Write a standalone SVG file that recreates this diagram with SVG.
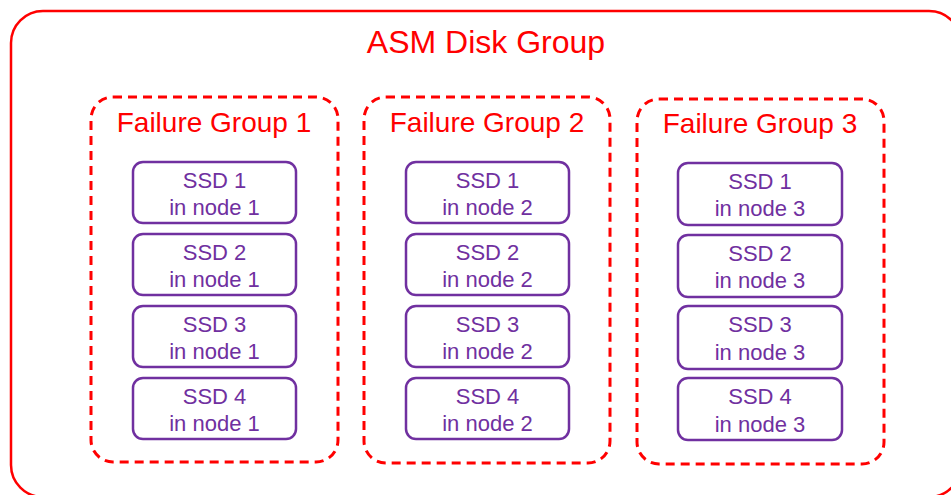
<svg xmlns="http://www.w3.org/2000/svg" width="951" height="495" viewBox="0 0 951 495">
<style>
.outer{fill:#fff;stroke:#FF0000;stroke-width:2.5}
.fg{fill:none;stroke:#FF0000;stroke-width:3;stroke-dasharray:9 6}
.ssd{fill:#fff;stroke:#7030A0;stroke-width:2.5}
.t1{font-family:"Liberation Sans",Arial,sans-serif;font-size:32px;fill:#FF0000;text-anchor:middle}
.t2{font-family:"Liberation Sans",Arial,sans-serif;font-size:28px;fill:#FF0000;text-anchor:middle}
.t3{font-family:"Liberation Sans",Arial,sans-serif;font-size:22px;fill:#7030A0;text-anchor:middle}
</style>
<rect width="951" height="495" fill="#fff"/>
<g id="asm-disk-group">
<rect class="outer" x="11" y="11" width="950" height="486" rx="32"/>
<text class="t1" x="486" y="53">ASM Disk Group</text>
</g>
<g id="failure-group-1">
<rect class="fg" x="91" y="97" width="247" height="365" rx="22"/>
<text class="t2" x="214" y="132">Failure Group 1</text>
</g>
<g id="failure-group-2">
<rect class="fg" x="364" y="97" width="246" height="366" rx="22"/>
<text class="t2" x="487" y="132">Failure Group 2</text>
</g>
<g id="failure-group-3">
<rect class="fg" x="637" y="99" width="247" height="365" rx="22"/>
<text class="t2" x="760" y="133">Failure Group 3</text>
</g>
<g id="ssd1-node1"><rect class="ssd" x="133" y="162" width="163" height="61" rx="10"/><text class="t3" x="214.5" y="188">SSD 1</text><text class="t3" x="214.5" y="215">in node 1</text></g>
<g id="ssd2-node1"><rect class="ssd" x="133" y="234" width="163" height="61" rx="10"/><text class="t3" x="214.5" y="260">SSD 2</text><text class="t3" x="214.5" y="287">in node 1</text></g>
<g id="ssd3-node1"><rect class="ssd" x="133" y="306" width="163" height="61" rx="10"/><text class="t3" x="214.5" y="332">SSD 3</text><text class="t3" x="214.5" y="359">in node 1</text></g>
<g id="ssd4-node1"><rect class="ssd" x="133" y="378" width="163" height="61" rx="10"/><text class="t3" x="214.5" y="404">SSD 4</text><text class="t3" x="214.5" y="431">in node 1</text></g>
<g id="ssd1-node2"><rect class="ssd" x="406" y="162" width="163" height="61" rx="10"/><text class="t3" x="487.5" y="188">SSD 1</text><text class="t3" x="487.5" y="215">in node 2</text></g>
<g id="ssd2-node2"><rect class="ssd" x="406" y="234" width="163" height="61" rx="10"/><text class="t3" x="487.5" y="260">SSD 2</text><text class="t3" x="487.5" y="287">in node 2</text></g>
<g id="ssd3-node2"><rect class="ssd" x="406" y="306" width="163" height="61" rx="10"/><text class="t3" x="487.5" y="332">SSD 3</text><text class="t3" x="487.5" y="359">in node 2</text></g>
<g id="ssd4-node2"><rect class="ssd" x="406" y="378" width="163" height="61" rx="10"/><text class="t3" x="487.5" y="404">SSD 4</text><text class="t3" x="487.5" y="431">in node 2</text></g>
<g id="ssd1-node3"><rect class="ssd" x="678" y="163" width="164" height="62" rx="10"/><text class="t3" x="760" y="189">SSD 1</text><text class="t3" x="760" y="216">in node 3</text></g>
<g id="ssd2-node3"><rect class="ssd" x="678" y="235" width="164" height="62" rx="10"/><text class="t3" x="760" y="261">SSD 2</text><text class="t3" x="760" y="288">in node 3</text></g>
<g id="ssd3-node3"><rect class="ssd" x="678" y="306" width="164" height="63" rx="10"/><text class="t3" x="760" y="332">SSD 3</text><text class="t3" x="760" y="360">in node 3</text></g>
<g id="ssd4-node3"><rect class="ssd" x="678" y="378" width="164" height="62" rx="10"/><text class="t3" x="760" y="404">SSD 4</text><text class="t3" x="760" y="432">in node 3</text></g>
<g id="connectors"></g>
</svg>
